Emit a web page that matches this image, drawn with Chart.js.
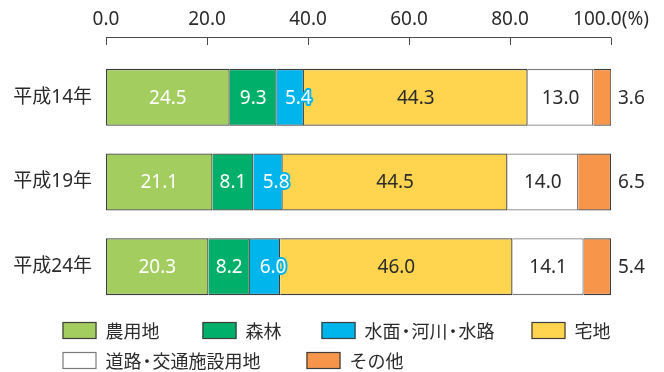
<!DOCTYPE html>
<html><head><meta charset="utf-8">
<script src="https://cdn.jsdelivr.net/npm/chart.js@4.4.1/dist/chart.umd.min.js"></script>
<style>html,body{margin:0;padding:0;background:#fff;}#wrap{width:664px;height:372px;position:relative;}</style>
</head><body><div id="wrap"><canvas id="c" width="664" height="372"></canvas></div>
<script>
// ---- data ----
const categories = ['平成14年', '平成19年', '平成24年'];
const seriesNames = ['農用地', '森林', '水面・河川・水路', '宅地', '道路・交通施設用地', 'その他'];
const agricultural = [24.5, 21.1, 20.3];
const forest = [9.3, 8.1, 8.2];
const water = [5.4, 5.8, 6.0];
const residential = [44.3, 44.5, 46.0];
const roads = [13.0, 14.0, 14.1];
const other = [3.6, 6.5, 5.4];
const tickValues = [0, 20, 40, 60, 80, 100];
const tickLabels = ['0.0', '20.0', '40.0', '60.0', '80.0', '100.0(%)'];

// ---- styles ----
const FONT = '"Noto Sans", "Noto Sans CJK JP", sans-serif';
const CJK = '"Noto Sans CJK JP", "Noto Sans", sans-serif';
const TEXT = '#2b2b2b';
const styles = [
  { bg: '#A4CD60', border: '#3d3d3d', label: '#ffffff', dx: 0 },
  { bg: '#00B06A', border: '#3d3d3d', label: '#ffffff', dx: 0 },
  { bg: '#00B5EC', border: '#3d3d3d', label: '#ffffff', dx: 8, halo: '#00B5EC' },
  { bg: '#FFD550', border: '#3d3d3d', label: TEXT, dx: 0 },
  { bg: '#FFFFFF', border: '#7a7a7a', label: TEXT, dx: 0 },
  { bg: '#F7964A', border: '#3d3d3d', label: TEXT, dx: 0, outside: true }
];
const seriesData = [agricultural, forest, water, residential, roads, other];

const datasets = seriesData.map((d, i) => ({
  label: seriesNames[i],
  data: d,
  backgroundColor: styles[i].bg,
  borderColor: styles[i].border,
  borderWidth: 1.3,
  borderSkipped: i === 0 ? false : 'start',
  barPercentage: 1,
  categoryPercentage: 0.673
}));

const axisPlugin = {
  id: 'topAxis',
  afterDraw(chart) {
    const ctx = chart.ctx, xs = chart.scales.x, top = chart.chartArea.top;
    const yLine = Math.round(top - 18) + 0.5;
    ctx.save();
    ctx.strokeStyle = '#4a4a4a';
    ctx.lineWidth = 1;
    ctx.beginPath();
    ctx.moveTo(xs.getPixelForValue(tickValues[0]), yLine);
    ctx.lineTo(xs.getPixelForValue(tickValues[tickValues.length - 1]), yLine);
    tickValues.forEach(v => {
      const px = Math.round(xs.getPixelForValue(v)) + 0.5;
      ctx.moveTo(px, yLine);
      ctx.lineTo(px, yLine + 7.5);
    });
    ctx.stroke();
    ctx.restore();
  }
};

const labelPlugin = {
  id: 'barLabels',
  afterDatasetsDraw(chart) {
    const ctx = chart.ctx;
    ctx.save();
    ctx.font = '19px ' + FONT;
    ctx.textBaseline = 'middle';
    chart.data.datasets.forEach((ds, i) => {
      const meta = chart.getDatasetMeta(i);
      const st = styles[i];
      meta.data.forEach((el, j) => {
        const txt = ds.data[j].toFixed(1);
        let x, align;
        if (st.outside) {
          x = chart.chartArea.right + 7; align = 'left';
        } else {
          x = (el.x + el.base) / 2 + st.dx; align = 'center';
        }
        ctx.textAlign = align;
        if (st.halo) {
          ctx.lineWidth = 4;
          ctx.lineJoin = 'round';
          ctx.strokeStyle = st.halo;
          ctx.strokeText(txt, x, el.y + 1);
        }
        ctx.fillStyle = st.label;
        ctx.fillText(txt, x, el.y + 1);
      });
    });
    ctx.restore();
  }
};

function drawLegendText(ctx, text, x, y) {
  const parts = text.split('・');
  const dotAdv = 11;
  parts.forEach((p, k) => {
    ctx.textAlign = 'left';
    ctx.fillText(p, x, y);
    x += ctx.measureText(p).width;
    if (k < parts.length - 1) {
      ctx.textAlign = 'center';
      ctx.fillText('・', x + dotAdv / 2, y);
      x += dotAdv;
    }
  });
  ctx.textAlign = 'left';
  return x;
}

const legendPlugin = {
  id: 'customLegend',
  afterDraw(chart) {
    const ctx = chart.ctx;
    const items = [
      { i: 0, x: 62.5, y: 322 }, { i: 1, x: 202.5, y: 322 },
      { i: 2, x: 321.5, y: 322 }, { i: 3, x: 531.5, y: 322 },
      { i: 4, x: 62.5, y: 352 }, { i: 5, x: 306.5, y: 352 }
    ];
    const boxW = 34, boxH = 17, textGap = 9;
    ctx.save();
    ctx.font = '18px ' + CJK;
    ctx.textBaseline = 'middle';
    items.forEach(({ i, x, y }) => {
      ctx.fillStyle = styles[i].bg;
      ctx.fillRect(x, y, boxW, boxH);
      ctx.strokeStyle = styles[i].border;
      ctx.lineWidth = 1.2;
      ctx.strokeRect(x + 0.5, y + 0.5, boxW - 1, boxH - 1);
      ctx.fillStyle = TEXT;
      drawLegendText(ctx, seriesNames[i], x + boxW + textGap, y + boxH / 2 + 1);
    });
    ctx.restore();
  }
};

new Chart(document.getElementById('c'), {
  type: 'bar',
  data: { labels: categories, datasets },
  options: {
    indexAxis: 'y',
    responsive: false,
    devicePixelRatio: 1,
    animation: false,
    layout: { padding: { left: 0, right: 53, top: 0, bottom: 63 } },
    plugins: { legend: { display: false }, tooltip: { enabled: false } },
    scales: {
      x: {
        position: 'top',
        stacked: true,
        min: 0, max: 100,
        grid: { display: false, drawTicks: false },
        border: { display: false },
        afterFit(s) { s.height = 55; s.paddingLeft = 0; s.paddingRight = 0; },
        afterBuildTicks(s) { s.ticks = tickValues.map(v => ({ value: v })); },
        ticks: {
          padding: 24,
          color: TEXT,
          font: { family: FONT, size: 19 },
          maxRotation: 0,
          autoSkip: false,
          callback: v => { const k = tickValues.indexOf(v); return k >= 0 ? tickLabels[k] : ''; }
        }
      },
      y: {
        stacked: true,
        grid: { display: false, drawTicks: false },
        border: { display: false },
        afterFit(s) { s.width = 106; },
        ticks: { color: TEXT, padding: 14, font: { family: FONT, size: 19 } }
      }
    }
  },
  plugins: [axisPlugin, labelPlugin, legendPlugin]
});
</script>
</body></html>
